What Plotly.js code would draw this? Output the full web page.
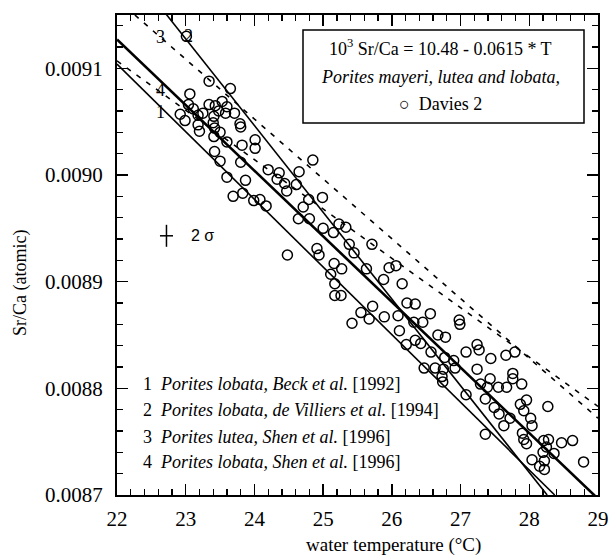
<!DOCTYPE html>
<html>
<head>
<meta charset="utf-8">
<script src="https://cdn.plot.ly/plotly-3.0.1.min.js"></script>
<style>html,body{margin:0;padding:0;background:#fff;}#chart{width:609px;height:556px;}</style>
</head>
<body>
<div id="chart"></div>
<script>
// Davies 2 coral measurements: water temperature (°C) and Sr/Ca (atomic)
const temperature = [
  23.01, 23.34, 23.65, 23.06, 23.53, 23.34, 23.43, 23.60, 23.04, 23.11,
  23.48, 23.71, 23.25, 23.58, 22.92, 23.41, 23.18, 22.99, 23.79, 23.40,
  23.18, 23.80, 23.20, 23.42, 23.50, 23.41, 24.01, 23.60, 23.82, 24.01,
  23.42, 23.50, 23.80, 23.60, 23.87, 23.69, 23.83, 23.99, 24.08, 24.17,
  24.20, 24.36, 24.65, 24.33, 24.44, 24.61, 24.47, 24.79, 24.99, 24.71,
  24.64, 24.80, 25.00, 25.15, 25.23, 25.33, 25.38, 25.71, 24.85, 24.48,
  24.91, 24.94, 25.45, 25.63, 25.96, 26.06, 25.88, 26.15, 25.16, 25.27,
  25.11, 25.17, 25.17, 25.26, 25.72, 25.55, 25.67, 25.42, 25.89, 26.09,
  26.22, 26.34, 26.56, 26.11, 26.32, 26.45, 26.21, 26.34, 26.42, 26.67,
  26.78, 26.98, 26.99, 26.57, 27.24, 27.27, 27.08, 27.44, 27.66, 27.79,
  26.77, 26.90, 26.47, 26.63, 26.75, 26.92, 27.24, 27.76, 26.73, 26.74,
  27.43, 27.76, 27.89, 27.29, 27.39, 27.55, 27.67, 27.08, 27.36, 27.49,
  27.56, 27.72, 27.87, 27.96, 27.92, 28.27, 28.02, 28.04, 27.63, 27.36,
  27.90, 27.92, 27.96, 28.21, 28.28, 28.47, 28.63, 28.36, 28.20, 28.25,
  28.22, 28.04, 28.15, 28.22, 28.79
];
const srca = [
  0.009130, 0.009088, 0.009081, 0.009076, 0.009069, 0.009066, 0.009065, 0.009064, 0.009066, 0.009062,
  0.009060, 0.009058, 0.009058, 0.009058, 0.009057, 0.009055, 0.009056, 0.009051, 0.009048, 0.009049,
  0.009047, 0.009045, 0.009041, 0.009044, 0.009040, 0.009036, 0.009033, 0.009031, 0.009028, 0.009025,
  0.009022, 0.009013, 0.009012, 0.008998, 0.008995, 0.008980, 0.008983, 0.008976, 0.008977, 0.008971,
  0.009005, 0.009002, 0.009003, 0.008996, 0.008992, 0.008991, 0.008985, 0.008977, 0.008979, 0.008970,
  0.008959, 0.008959, 0.008950, 0.008946, 0.008954, 0.008951, 0.008935, 0.008935, 0.009014, 0.008925,
  0.008931, 0.008925, 0.008927, 0.008912, 0.008913, 0.008915, 0.008902, 0.008898, 0.008917, 0.008912,
  0.008907, 0.008898, 0.008887, 0.008887, 0.008877, 0.008871, 0.008865, 0.008861, 0.008867, 0.008868,
  0.008880, 0.008879, 0.008870, 0.008854, 0.008862, 0.008862, 0.008841, 0.008845, 0.008842, 0.008850,
  0.008848, 0.008864, 0.008860, 0.008834, 0.008841, 0.008836, 0.008834, 0.008828, 0.008831, 0.008834,
  0.008829, 0.008826, 0.008819, 0.008819, 0.008818, 0.008819, 0.008818, 0.008814, 0.008811, 0.008806,
  0.008809, 0.008809, 0.008804, 0.008804, 0.008801, 0.008801, 0.008801, 0.008794, 0.008790, 0.008782,
  0.008776, 0.008772, 0.008785, 0.008789, 0.008779, 0.008783, 0.008772, 0.008765, 0.008765, 0.008757,
  0.008758, 0.008752, 0.008748, 0.008751, 0.008752, 0.008749, 0.008751, 0.008739, 0.008740, 0.008745,
  0.008732, 0.008733, 0.008727, 0.008724, 0.008731
];

// Calibration lines (end points)
const fitT = [22, 29];            // 10^3 Sr/Ca = 10.48 - 0.0615 * T
const fitS = [0.009127, 0.0086965];
const line1T = [22, 28.37];       // Beck et al. 1992
const line1S = [0.009104, 0.0087];
const line2T = [22.70, 28.26];    // de Villiers et al. 1994
const line2S = [0.009152, 0.0087];
const line3T = [22.26, 29];       // Shen et al. 1996 (P. lutea)
const line3S = [0.009150, 0.008772];
const line4T = [22, 29];          // Shen et al. 1996 (P. lobata)
const line4S = [0.009107, 0.008783];

// 2 sigma error cross
const sigmaT = [22.72];
const sigmaS = [0.008943];
const sigmaErrT = [0.095];
const sigmaErrS = [0.0000103];

const xTicks = [22, 23, 24, 25, 26, 27, 28, 29];
const yTicks = [0.0087, 0.0088, 0.0089, 0.0090, 0.0091];
const yTickText = ['0.0087', '0.0088', '0.0089', '0.0090', '0.0091'];

const serif = 'Liberation Serif, Times New Roman, serif';

const traces = [
  {x: line3T, y: line3S, mode: 'lines', line: {color: '#000', width: 1.6, dash: '5px,7px'}, hoverinfo: 'skip'},
  {x: line4T, y: line4S, mode: 'lines', line: {color: '#000', width: 1.6, dash: '5px,7px'}, hoverinfo: 'skip'},
  {x: line1T, y: line1S, mode: 'lines', line: {color: '#000', width: 1.6}, hoverinfo: 'skip'},
  {x: line2T, y: line2S, mode: 'lines', line: {color: '#000', width: 1.6}, hoverinfo: 'skip'},
  {x: fitT, y: fitS, mode: 'lines', line: {color: '#000', width: 2.6}, hoverinfo: 'skip'},
  {x: temperature, y: srca, mode: 'markers',
   marker: {symbol: 'circle-open', size: 10, color: '#000', line: {width: 1.5, color: '#000'}}},
  {x: sigmaT, y: sigmaS, mode: 'markers', marker: {size: 1, color: 'rgba(0,0,0,0)'},
   error_x: {type: 'data', array: sigmaErrT, color: '#000', thickness: 1.5, width: 0},
   error_y: {type: 'data', array: sigmaErrS, color: '#000', thickness: 1.5, width: 0}}
];

function px2paperX(px) { return (px - 117) / 481; }
function px2paperY(py) { return (495 - py) / 480; }

const legendLines = [
  '1\u00A0\u00A0<i>Porites lobata, Beck et al.</i> [1992]',
  '2\u00A0\u00A0<i>Porites lobata, de Villiers et al.</i> [1994]',
  '3\u00A0\u00A0<i>Porites lutea, Shen et al.</i> [1996]',
  '4\u00A0\u00A0<i>Porites lobata, Shen et al.</i> [1996]'
];
const legendY = [384, 410, 437, 462];

const annotations = [];
legendLines.forEach((t, i) => {
  annotations.push({xref: 'paper', yref: 'paper', x: px2paperX(141), y: px2paperY(legendY[i]),
    xanchor: 'left', yanchor: 'middle', showarrow: false, text: t,
    font: {family: serif, size: 18, color: '#000'}});
});
[['3', 160, 37], ['2', 188, 36], ['4', 160, 90], ['1', 160, 112]].forEach(a => {
  annotations.push({xref: 'paper', yref: 'paper', x: px2paperX(a[1]), y: px2paperY(a[2]),
    xanchor: 'center', yanchor: 'middle', showarrow: false, text: a[0],
    font: {family: serif, size: 18, color: '#000'}});
});
// box text
const boxLines = [
  ['10<sup>3</sup> Sr/Ca = 10.48 - 0.0615 * T', 48],
  ['<i>Porites mayeri, lutea and lobata,</i>', 77],
  ['\u25CB\u00A0\u00A0Davies 2', 104]
];
boxLines.forEach(b => {
  annotations.push({xref: 'paper', yref: 'paper', x: px2paperX(440), y: px2paperY(b[1]),
    xanchor: 'center', yanchor: 'middle', showarrow: false, text: b[0],
    font: {family: serif, size: 18, color: '#000'}});
});
annotations.push({xref: 'paper', yref: 'paper', x: px2paperX(189), y: px2paperY(235),
  xanchor: 'left', yanchor: 'middle', showarrow: false, text: '2 \u03C3',
  font: {family: 'Liberation Sans, Arial, sans-serif', size: 16, color: '#000'}});
// axis titles
annotations.push({xref: 'paper', yref: 'paper', x: px2paperX(393), y: px2paperY(545),
  xanchor: 'center', yanchor: 'middle', showarrow: false, text: 'water temperature (°C)',
  font: {family: serif, size: 19, color: '#000'}});
annotations.push({xref: 'paper', yref: 'paper', x: px2paperX(20), y: px2paperY(283),
  xanchor: 'center', yanchor: 'middle', showarrow: false, text: 'Sr/Ca (atomic)', textangle: -90,
  font: {family: serif, size: 18, color: '#000'}});

const layout = {
  width: 609, height: 556,
  margin: {l: 117, r: 11, t: 15, b: 61},
  paper_bgcolor: '#fff', plot_bgcolor: '#fff',
  showlegend: false,
  font: {family: serif, color: '#000'},
  xaxis: {
    range: [22, 29], tickvals: xTicks, ticks: 'inside', ticklen: 11, tickwidth: 1.5, tickcolor: '#000',
    minor: {dtick: 0.2, ticks: 'inside', ticklen: 6, tickwidth: 1.3, tickcolor: '#000', showgrid: false},
    showline: true, linewidth: 2, linecolor: '#000', mirror: 'allticks',
    showgrid: false, zeroline: false, ticklabelstandoff: 4,
    tickfont: {family: serif, size: 21, color: '#000'}
  },
  yaxis: {
    range: [0.0087, 0.00915], tickvals: yTicks, ticktext: yTickText, ticks: 'inside', ticklen: 11,
    tickwidth: 1.5, tickcolor: '#000',
    minor: {dtick: 0.00002, tick0: 0.0087, ticks: 'inside', ticklen: 6, tickwidth: 1.3, tickcolor: '#000', showgrid: false},
    showline: true, linewidth: 2, linecolor: '#000', mirror: 'allticks',
    showgrid: false, zeroline: false, ticklabelstandoff: 8,
    tickfont: {family: serif, size: 21, color: '#000'}
  },
  shapes: [
    {type: 'rect', xref: 'paper', yref: 'paper', x0: px2paperX(303), x1: px2paperX(584),
     y0: px2paperY(123), y1: px2paperY(30), line: {color: '#000', width: 1.5}, fillcolor: 'rgba(0,0,0,0)'}
  ],
  annotations: annotations
};

Plotly.newPlot('chart', traces, layout, {displayModeBar: false, staticPlot: true});
</script>
</body>
</html>
